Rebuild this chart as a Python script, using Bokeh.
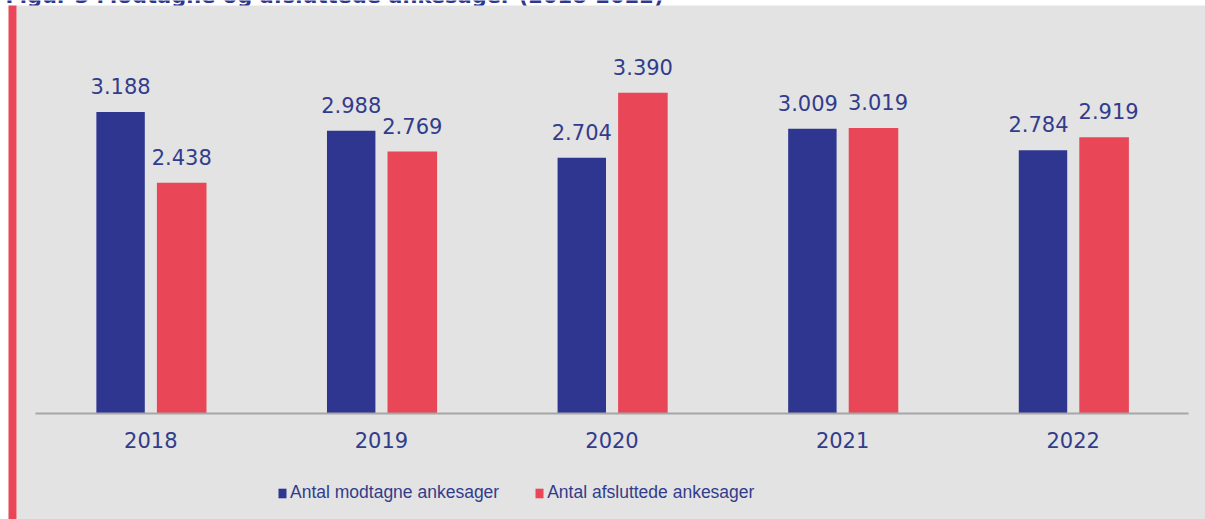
import numpy as np
from bokeh.plotting import figure
from bokeh.models import ColumnDataSource, Range1d, Legend, LegendItem, BoxAnnotation
from bokeh.core.properties import value
from bokeh.embed import file_html
from bokeh.resources import INLINE

title_text = "Figur 3 Modtagne og afsluttede ankesager (2018-2022)"
years = ["2018", "2019", "2020", "2021", "2022"]
received = [3188, 2988, 2704, 3009, 2784]
closed = [2438, 2769, 3390, 3019, 2919]
series_names = ["Antal modtagne ankesager", "Antal afsluttede ankesager"]

BLUE = "#2e368f"
RED = "#e94657"
BG = "#e3e3e3"
TXT = "#323c8c"
AXIS = "#a6a6a6"

W, H = 1205, 519
# layout (pixels): category band and baseline
PX_LEFT = 35.0          # left end of the category band
PX_PER_CAT = 230.6      # width of one category
PX_BASE = 413.0         # pixel row of the value axis baseline
PX_PER_UNIT = 0.0946    # pixels per case

x_start = -PX_LEFT / PX_PER_CAT
x_end = (W - PX_LEFT) / PX_PER_CAT
y_end = PX_BASE / PX_PER_UNIT
y_start = -(H - PX_BASE) / PX_PER_UNIT

def px_x(px):
    return x_start + px / PX_PER_CAT

def px_y(py):
    return y_end - py / PX_PER_UNIT

def fmt(v):
    return f"{v:,}".replace(",", ".")

xc = np.arange(len(years)) + 0.5
OFF_B, OFF_R = -0.131, 0.134

# push apart value labels of a pair whose tops are at nearly the same height
rec = np.array(received)
clo = np.array(closed)
clash = np.abs(rec - clo) * PX_PER_UNIT < 18
nudge = np.where(clash, 4.5, 0.0)

src = ColumnDataSource(dict(
    year=years,
    xc=xc,
    xb=xc + OFF_B,
    xr=xc + OFF_R,
    zero=np.zeros(len(years)),
    received=received,
    closed=closed,
    rlab=[fmt(v) for v in received],
    clab=[fmt(v) for v in closed],
    nb=-nudge,
    nr=nudge,
))

p = figure(width=W, height=H, x_range=Range1d(x_start, x_end), y_range=Range1d(y_start, y_end),
           output_backend="svg", toolbar_location=None,
           min_border_left=0, min_border_right=0, min_border_top=0, min_border_bottom=0)
p.background_fill_color = "white"
p.border_fill_color = "white"
p.outline_line_color = None
p.xgrid.visible = False
p.ygrid.visible = False
p.xaxis.visible = False
p.yaxis.visible = False

# panel background and red accent strip
p.add_layout(BoxAnnotation(left=px_x(16), top=px_y(5), fill_color=BG, fill_alpha=1,
                           line_color=None, level="underlay"))
p.add_layout(BoxAnnotation(left=px_x(8), right=px_x(16), top=px_y(5), fill_color=RED,
                           fill_alpha=1, line_color=None, level="underlay"))

# title (cut at the top edge, as in the source)
p.text(x=[px_x(5)], y=[px_y(-5)], text=[title_text], text_baseline="alphabetic",
       text_align="left", text_font=value("DejaVu Sans"), text_font_style="bold",
       text_font_size="21px", text_color="#2e368f", level="underlay")

r1 = p.vbar(x="xb", top="received", width=0.21, source=src, fill_color=BLUE, line_color=None)
r2 = p.vbar(x="xr", top="closed", width=0.215, source=src, fill_color=RED, line_color=None)

for xcol, col, lab, nd in (("xb", "received", "rlab", "nb"), ("xr", "closed", "clab", "nr")):
    p.text(x=xcol, y=col, text=lab, source=src, x_offset=nd,
           text_align="center", text_baseline="alphabetic", y_offset=-26,
           text_font=value("DejaVu Sans"), text_font_size="21px", text_color=TXT)

# baseline across the category band
p.segment(x0=[0], x1=[len(years)], y0=[0], y1=[0], line_color=AXIS, line_width=2)

# category labels
p.text(x="xc", y="zero", text="year", source=src, text_align="center",
       text_baseline="alphabetic", y_offset=26,
       text_font=value("DejaVu Sans"), text_font_size="21px", text_color=TXT)

legend = Legend(items=[LegendItem(label=series_names[0], renderers=[r1]),
                       LegendItem(label=series_names[1], renderers=[r2])],
                orientation="horizontal", location=(277, 16),
                padding=0, margin=0, spacing=35,
                glyph_width=10, glyph_height=12, label_standoff=3,
                label_text_font="Liberation Sans", label_text_font_size="17.5px",
                label_text_color=TXT,
                border_line_color=None, background_fill_alpha=0)
p.add_layout(legend, "center")

open("out.html", "w").write(file_html(p, INLINE))
